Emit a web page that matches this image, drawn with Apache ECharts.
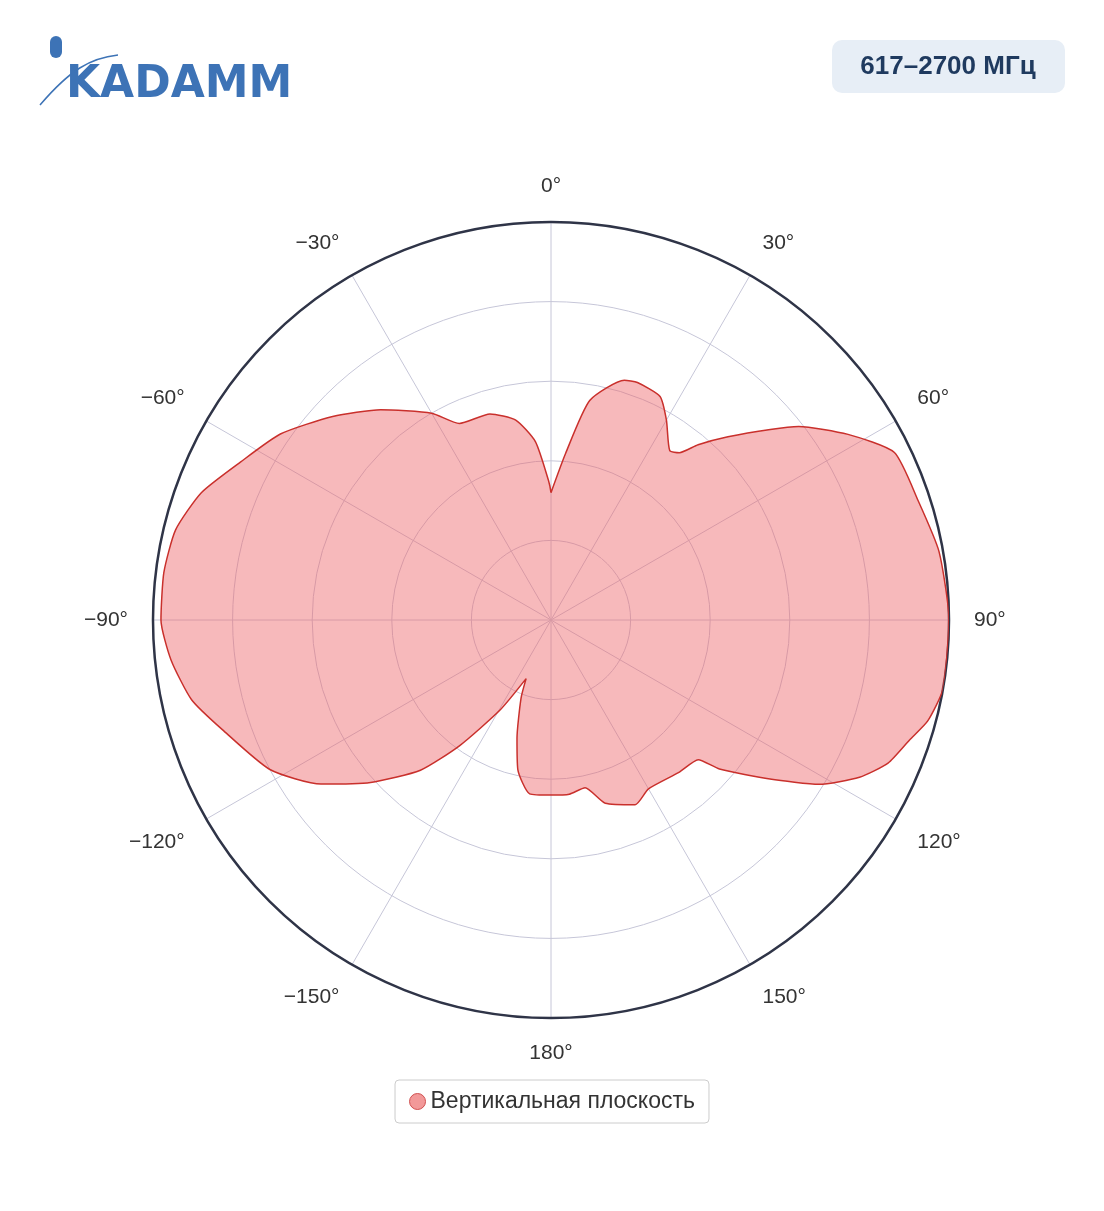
<!DOCTYPE html>
<html><head><meta charset="utf-8">
<script src="https://cdn.jsdelivr.net/npm/echarts@6/dist/echarts.min.js"></script>
<style>html,body{margin:0;padding:0;background:#fff}#c{width:1104px;height:1211px}</style>
</head><body><div id="c"></div>
<script>
const angles = [0,5,10,17,20,26,30,35,37.5,40,44,49,52,58,64,72,80,90,100,105,108.5,113,117,121.5,126,131.5,133.5,140,150,155.5,163.5,168.5,174,180,187,192.5,196,201,203,209.5,216,221,228,234.5,242,251.5,257.5,264,270,277,283.5,290,297,304.5,313,321,330,335,343.5,350,355,359,360];
const radii  = [0.32,0.42,0.56,0.63,0.635,0.625,0.58,0.52,0.53,0.575,0.64,0.73,0.79,0.88,0.96,0.97,0.99,1.0,1.0,0.98,0.95,0.92,0.87,0.79,0.68,0.565,0.51,0.50,0.49,0.51,0.48,0.43,0.44,0.44,0.44,0.385,0.31,0.21,0.16,0.26,0.39,0.50,0.61,0.71,0.80,0.87,0.925,0.96,0.98,0.98,0.97,0.935,0.875,0.825,0.75,0.68,0.60,0.545,0.54,0.51,0.45,0.35,0.32];
const seriesName = 'Вертикальная плоскость';
const badgeText = '617–2700 МГц';
const data = angles.map((a,i)=>[radii[i],a]);
const chart = echarts.init(document.getElementById('c'));
chart.setOption({
  animation:false,
  polar:{center:[551,620],radius:398},
  angleAxis:{type:'value',min:0,max:360,interval:30,startAngle:90,clockwise:true,
    axisLine:{lineStyle:{color:'#2f3447',width:2.5}},axisTick:{show:false},
    splitLine:{show:true,lineStyle:{color:'#c6c6d8',width:1}},
    axisLabel:{margin:25,fontSize:21,color:'#333',fontFamily:'Liberation Sans, Arial',
      formatter:v=>{if(v===360)return '';const d=v>180?v-360:v;return (d<0?'−'+(-d):d)+'°';}}},
  radiusAxis:{min:0,max:1,interval:0.2,axisLine:{show:false},axisTick:{show:false},axisLabel:{show:false},
    splitLine:{show:true,lineStyle:{color:'#c6c6d8',width:1}}},
  legend:{bottom:88,left:'center',itemWidth:16,itemHeight:16,icon:'circle',
    borderColor:'#ccc',borderWidth:1,borderRadius:4,padding:[10,14],
    textStyle:{fontSize:23,color:'#333',fontFamily:'Liberation Sans, Arial'},
    data:[{name:seriesName,itemStyle:{color:'#f29999',borderColor:'#d05050',borderWidth:1}}]},
  series:[{name:seriesName,type:'line',coordinateSystem:'polar',data:data,smooth:0.2,symbol:'none',
    lineStyle:{color:'#c9302c',width:1.5},itemStyle:{color:'#f29999'},
    areaStyle:{color:'rgba(238,100,104,0.45)',opacity:1}}],
  graphic:[
    {type:'rect',shape:{x:832,y:40,width:233,height:53,r:10},style:{fill:'#e7eef6'}},
    {type:'text',x:948,y:67,style:{text:badgeText,fontSize:26,fontWeight:'bold',fill:'#1f3a5f',align:'center',verticalAlign:'middle',fontFamily:'Liberation Sans, Arial'}},
    {type:'text',x:66,y:108,style:{text:'KADAMM',fontSize:44,fontWeight:'bold',fill:'#3d73b6',verticalAlign:'bottom',fontFamily:'DejaVu Sans'}},
    {type:'rect',shape:{x:50,y:36,width:12,height:22,r:6},style:{fill:'#3d73b6'}},
    {type:'bezierCurve',shape:{x1:40,y1:105,cpx1:70,cpy1:70,x2:118,y2:55,cpx2:90,cpy2:58},style:{stroke:'#3d73b6',lineWidth:1.5,fill:null}}
  ]
});
</script></body></html>
